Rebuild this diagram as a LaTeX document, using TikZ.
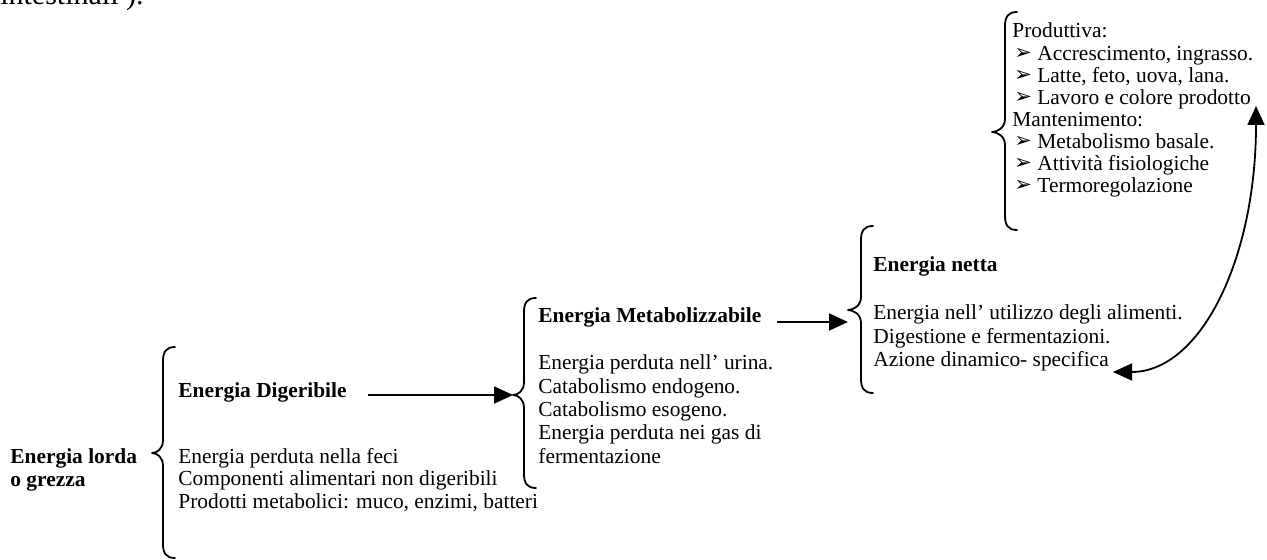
\documentclass[tikz,border=0pt]{standalone}
\usepackage{fontspec}
\setmainfont{Liberation Serif}
\newfontfamily\symfont{DejaVu Sans}
\usetikzlibrary{arrows.meta}

% left curly brace: #1 x of the stem, #2 top y, #3 x of the tip, #4 y of the tip, #5 bottom y
\newcommand{\wordbrace}[5]{%
  \draw[bracestyle] (#1+12,#2) .. controls (#1+3,#2) and (#1,#2+5) .. (#1,#2+14)
    -- (#1,#4-13) .. controls (#1,#4-4) and (#3+5,#4) .. (#3,#4)
    .. controls (#3+5,#4) and (#1,#4+4) .. (#1,#4+13)
    -- (#1,#5-14) .. controls (#1,#5-5) and (#1+3,#5) .. (#1+12,#5);}

\begin{document}
\begin{tikzpicture}[x=0.5pt,y=-0.5pt,
  txt/.style={anchor=base west,inner sep=0pt,font=\fontsize{10.7}{12}\selectfont},
  head/.style={anchor=base west,inner sep=0pt,font=\fontsize{10.7}{12}\selectfont\bfseries},
  bullet/.style={anchor=base west,inner sep=0pt,font=\symfont\fontsize{10.5}{12}\selectfont},
  bracestyle/.style={line width=0.9pt,line cap=round,line join=round},
  link/.style={line width=0.9pt,-{Triangle[length=9.5pt,width=8.5pt]}},
  twoway/.style={line width=0.9pt,{Triangle[length=9.5pt,width=8.5pt]}-{Triangle[length=9.5pt,width=8.5pt]}},
]
\useasboundingbox (0,0) rectangle (1267,560);
\clip (0,0) rectangle (1267,560);

% tail of the preceding paragraph
\node[anchor=base east,inner sep=0pt,font=\fontsize{15}{18}\selectfont] (prev) at (144,5) {intestinali ).};

% gross energy
\node[head] (lorda1) at (10,463) {Energia lorda};
\node[head] (lorda2) at (10,486) {o grezza};
\wordbrace{163}{347}{152}{453}{558}

% digestible energy
\node[head] (dig) at (178,398) {Energia Digeribile};
\foreach \ln [count=\i] in {Energia perduta nella feci, Componenti alimentari non digeribili, {Prodotti metabolici: muco, enzimi, batteri}}
  \node[txt] (dig-\i) at (178,{463+(\i-1)*22.5}) {\ln};

% metabolizable energy
\wordbrace{524}{298}{513}{395}{488}
\node[head] (met) at (538,323) {Energia Metabolizzabile};
\foreach \ln [count=\i] in {Energia perduta nell’ urina., Catabolismo endogeno., Catabolismo esogeno., Energia perduta nei gas di, fermentazione}
  \node[txt] (met-\i) at (538,{370+(\i-1)*23.3}) {\ln};

% net energy
\wordbrace{861}{226}{848}{310}{393}
\node[head] (net) at (873,272) {Energia netta};
\foreach \ln [count=\i] in {Energia nell’ utilizzo degli alimenti., Digestione e fermentazioni., Azione dinamico- specifica}
  \node[txt] (net-\i) at (873,{320+(\i-1)*23.5}) {\ln};

% uses of the net energy
\wordbrace{1005}{12}{992}{132}{230}
\node[txt] (prod) at (1012,38) {Produttiva:};
\node[txt] (mant) at (1012,{38+4*22.1}) {Mantenimento:};
\foreach \ln/\k in {{Accrescimento, ingrasso.}/1, {Latte, feto, uova, lana.}/2, Lavoro e colore prodotto/3,
                    Metabolismo basale./5, Attività fisiologiche/6, Termoregolazione/7} {
  \node[bullet] (b-\k) at (1014,{37+\k*22.1}) {➢};
  \node[txt] (u-\k) at (1037,{38+\k*22.1}) {\ln};
}

% connectors
\coordinate (dig-out) at (368,395);
\coordinate (met-in) at (513,395);
\coordinate (met-out) at (777,322);
\coordinate (net-in) at (848,322);
\coordinate (az-end) at (1113,372);
\coordinate (lav-end) at (1256,106);
\draw[link] (dig-out) -- (met-in);
\draw[link] (met-out) -- (net-in);
\draw[twoway] (az-end) .. controls (1200,372) and (1256,260) .. (lav-end);
\end{tikzpicture}
\end{document}
